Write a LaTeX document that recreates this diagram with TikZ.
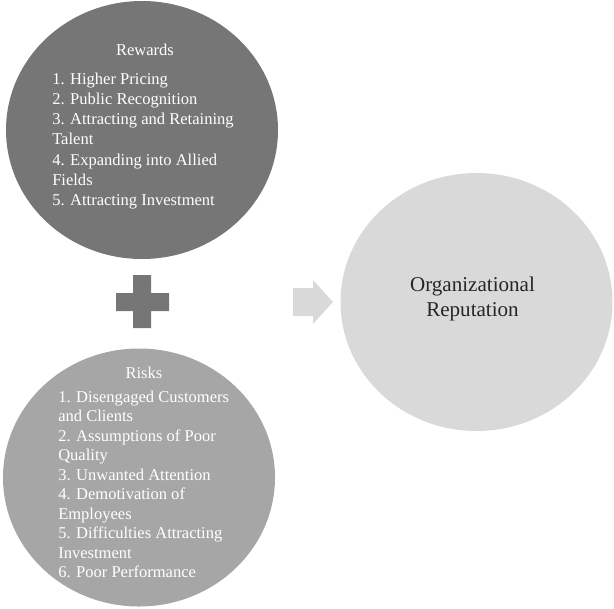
\documentclass[tikz,border=0pt]{standalone}
\usepackage{fontspec}
\setmainfont{Liberation Serif}
\usetikzlibrary{shapes.geometric}
\definecolor{rewardgrey}{HTML}{767676}
\definecolor{riskgrey}{HTML}{A6A6A6}
\definecolor{repgrey}{HTML}{D9D9D9}
\definecolor{repink}{HTML}{262626}
\tikzset{
  % big round bubble for each block
  bubble/.style={ellipse,inner sep=0pt,draw=none,minimum width=204pt,minimum height=193.5pt},
  % white text inside the grey bubbles
  headtext/.style={text=white,inner sep=0pt,font=\fontsize{12.4}{15}\selectfont},
  listtext/.style={headtext,align=left,anchor=west},
}
\begin{document}
\begin{tikzpicture}[x=0.75pt,y=-0.75pt]
\useasboundingbox (0,0) rectangle (614,608);
\node[bubble,fill=rewardgrey] (rewards) at (142,130) {};
\node[bubble,fill=riskgrey] (risks) at (139,477.5) {};
\node[bubble,fill=repgrey] (reputation) at (476.5,302) {};
\node[headtext] (rewardstitle) at (145,50) {Rewards};
\node[listtext,font=\fontsize{12.4}{15.2}\selectfont] (rewardslist) at (52,141)
  {1. Higher Pricing\\2. Public Recognition\\3. Attracting and Retaining\\Talent\\4. Expanding into Allied\\Fields\\5. Attracting Investment};
\node[headtext] (riskstitle) at (144,373) {Risks};
\node[listtext,font=\fontsize{12.4}{14.6}\selectfont] (riskslist) at (58,484.5)
  {1. Disengaged Customers\\and Clients\\2. Assumptions of Poor\\Quality\\3. Unwanted Attention\\4. Demotivation of\\Employees\\5. Difficulties Attracting\\Investment\\6. Poor Performance};
\node[text=repink,align=center,inner sep=0pt,font=\fontsize{15.8}{18.8}\selectfont] (reptext) at (472.5,298.5)
  {Organizational\\Reputation};
\begin{scope}
  % plus sign between the two blocks
  \fill[rewardgrey] (133,275) -- (151,275) -- (151,293) -- (169,293) -- (169,311) -- (151,311)
    -- (151,328) -- (133,328) -- (133,311) -- (116,311) -- (116,293) -- (133,293) -- cycle;
\end{scope}
\begin{scope}
  % block arrow towards the result
  \fill[repgrey] (293,288) -- (313,288) -- (313,280) -- (333,302) -- (313,324) -- (313,316)
    -- (293,316) -- cycle;
\end{scope}
\end{tikzpicture}
\end{document}
